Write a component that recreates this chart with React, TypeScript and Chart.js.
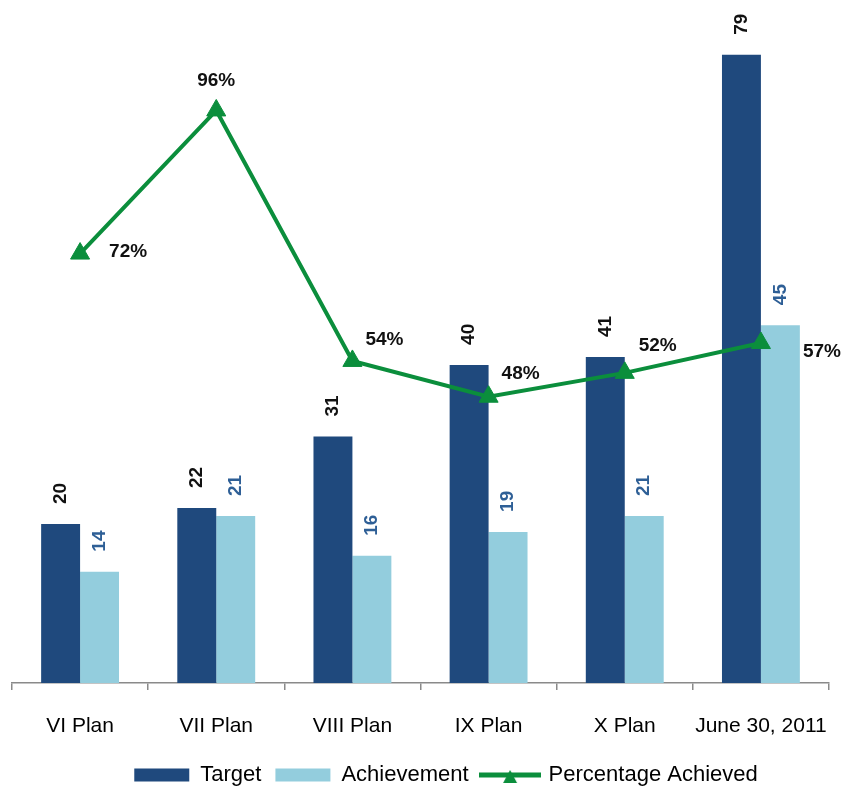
import React, { useEffect, useRef } from 'react';
import { Chart, registerables } from 'chart.js';

Chart.register(...registerables);

// ---- data ----
const categories = ['VI Plan', 'VII Plan', 'VIII Plan', 'IX Plan', 'X Plan', 'June 30, 2011'];
const targetValues = [20, 22, 31, 40, 41, 79];
const achievementValues = [14, 21, 16, 19, 21, 45];
const percentValues = [72, 96, 54, 48, 52, 57];
const seriesNames = ['Target', 'Achievement', 'Percentage Achieved'];

// ---- styles ----
const FONT = "'Liberation Sans', Arial, sans-serif";
const C_TARGET = '#1F497D';
const C_ACH = '#93CDDD';
const C_GREEN = '#0B8E3C';
const C_ACH_LABEL = '#2E5F96';
const PCT_LABEL_OFFSETS = [
  [48, -2],
  [0, -30],
  [32, -21],
  [32, -23],
  [33, -27],
  [61, 9],
];

function makeLineLegendImage(): HTMLCanvasElement {
  const c = document.createElement('canvas');
  c.width = 62;
  c.height = 20;
  const g = c.getContext('2d')!;
  g.strokeStyle = C_GREEN;
  g.lineWidth = 5;
  g.beginPath();
  g.moveTo(0, 10);
  g.lineTo(62, 10);
  g.stroke();
  g.fillStyle = C_GREEN;
  g.beginPath();
  g.moveTo(31, 5);
  g.lineTo(38, 18);
  g.lineTo(24, 18);
  g.closePath();
  g.fill();
  return c;
}

const valueLabels = {
  id: 'valueLabels',
  afterDatasetsDraw(chart: any) {
    const ctx = chart.ctx;
    ctx.save();
    [0, 1].forEach((di) => {
      const meta = chart.getDatasetMeta(di);
      const ds = chart.data.datasets[di];
      meta.data.forEach((el: any, i: number) => {
        ctx.save();
        ctx.translate(el.x, el.y - 20);
        ctx.rotate(-Math.PI / 2);
        ctx.font = `bold 19px ${FONT}`;
        ctx.fillStyle = di === 0 ? '#111111' : C_ACH_LABEL;
        ctx.textAlign = 'left';
        ctx.textBaseline = 'middle';
        ctx.fillText(String(ds.data[i]), 0, 0);
        ctx.restore();
      });
    });
    const lm = chart.getDatasetMeta(2);
    lm.data.forEach((el: any, i: number) => {
      const [dx, dy] = PCT_LABEL_OFFSETS[i];
      ctx.font = `bold 19px ${FONT}`;
      ctx.fillStyle = '#111111';
      ctx.textAlign = 'center';
      ctx.textBaseline = 'middle';
      ctx.fillText(`${chart.data.datasets[2].data[i]}%`, el.x + dx, el.y + dy);
    });
    ctx.restore();
  },
};

const legendShift = {
  id: 'legendShift',
  afterLayout(chart: any) {
    if (chart.legend) {
      chart.legend.left += 26;
      chart.legend.right += 26;
    }
  },
};

export default function App() {
  const ref = useRef<HTMLCanvasElement>(null);

  useEffect(() => {
    const canvas = ref.current!;
    const lineImg = makeLineLegendImage();
    const chart = new Chart(canvas, {
      type: 'bar',
      data: {
        labels: categories,
        datasets: [
          {
            type: 'bar',
            label: seriesNames[0],
            data: targetValues,
            backgroundColor: C_TARGET,
            yAxisID: 'y',
            order: 1,
          },
          {
            type: 'bar',
            label: seriesNames[1],
            data: achievementValues,
            backgroundColor: C_ACH,
            yAxisID: 'y',
            order: 1,
          },
          {
            type: 'line',
            label: seriesNames[2],
            data: percentValues,
            borderColor: C_GREEN,
            backgroundColor: C_GREEN,
            borderWidth: 4,
            pointStyle: 'triangle',
            pointRadius: 11,
            pointBackgroundColor: C_GREEN,
            pointBorderColor: C_GREEN,
            pointBorderWidth: 1,
            tension: 0,
            yAxisID: 'y1',
            order: 0,
          },
        ] as any,
      },
      options: {
        responsive: false,
        animation: false,
        devicePixelRatio: 1,
        layout: { padding: { left: 11, right: 17, top: 15, bottom: 0 } },
        datasets: {
          bar: { categoryPercentage: 0.572, barPercentage: 1 },
        } as any,
        plugins: {
          tooltip: { enabled: false },
          legend: {
            position: 'bottom',
            maxHeight: 39,
            labels: {
              usePointStyle: true,
              pointStyleWidth: 55,
              boxHeight: 13,
              padding: 14,
              color: '#000000',
              font: { family: FONT, size: 22 },
              generateLabels: () => [
                {
                  text: seriesNames[0],
                  fillStyle: C_TARGET,
                  strokeStyle: C_TARGET,
                  lineWidth: 0,
                  pointStyle: 'rect',
                  hidden: false,
                  datasetIndex: 0,
                  fontColor: '#000000',
                },
                {
                  text: seriesNames[1],
                  fillStyle: C_ACH,
                  strokeStyle: C_ACH,
                  lineWidth: 0,
                  pointStyle: 'rect',
                  hidden: false,
                  datasetIndex: 1,
                  fontColor: '#000000',
                },
                {
                  text: seriesNames[2],
                  fillStyle: C_GREEN,
                  strokeStyle: C_GREEN,
                  lineWidth: 0,
                  pointStyle: lineImg,
                  hidden: false,
                  datasetIndex: 2,
                  fontColor: '#000000',
                },
              ] as any,
            },
          },
        },
        scales: {
          x: {
            offset: true,
            grid: {
              display: true,
              drawOnChartArea: false,
              drawTicks: true,
              tickLength: 7,
              color: '#8a8a8a',
              lineWidth: 1.5,
            },
            border: { display: true, color: '#8a8a8a', width: 1.5 },
            ticks: {
              color: '#000000',
              font: { family: FONT, size: 21 },
              padding: 23.4,
              maxRotation: 0,
              minRotation: 0,
              autoSkip: false,
            },
            afterFit: (scale: any) => {
              scale.height = 67;
              scale.paddingLeft = 0;
              scale.paddingRight = 0;
            },
          },
          y: { display: false, min: 0, max: 84 },
          y1: { display: false, min: 0, max: 112, position: 'right' },
        },
      },
      plugins: [valueLabels, legendShift],
    });
    return () => chart.destroy();
  }, []);

  return (
    <div
      style={{
        position: 'fixed',
        left: 0,
        top: 0,
        width: 846,
        height: 789,
        overflow: 'hidden',
        background: '#ffffff',
      }}
    >
      <canvas ref={ref} width={846} height={789} style={{ display: 'block', width: 846, height: 789 }} />
    </div>
  );
}
